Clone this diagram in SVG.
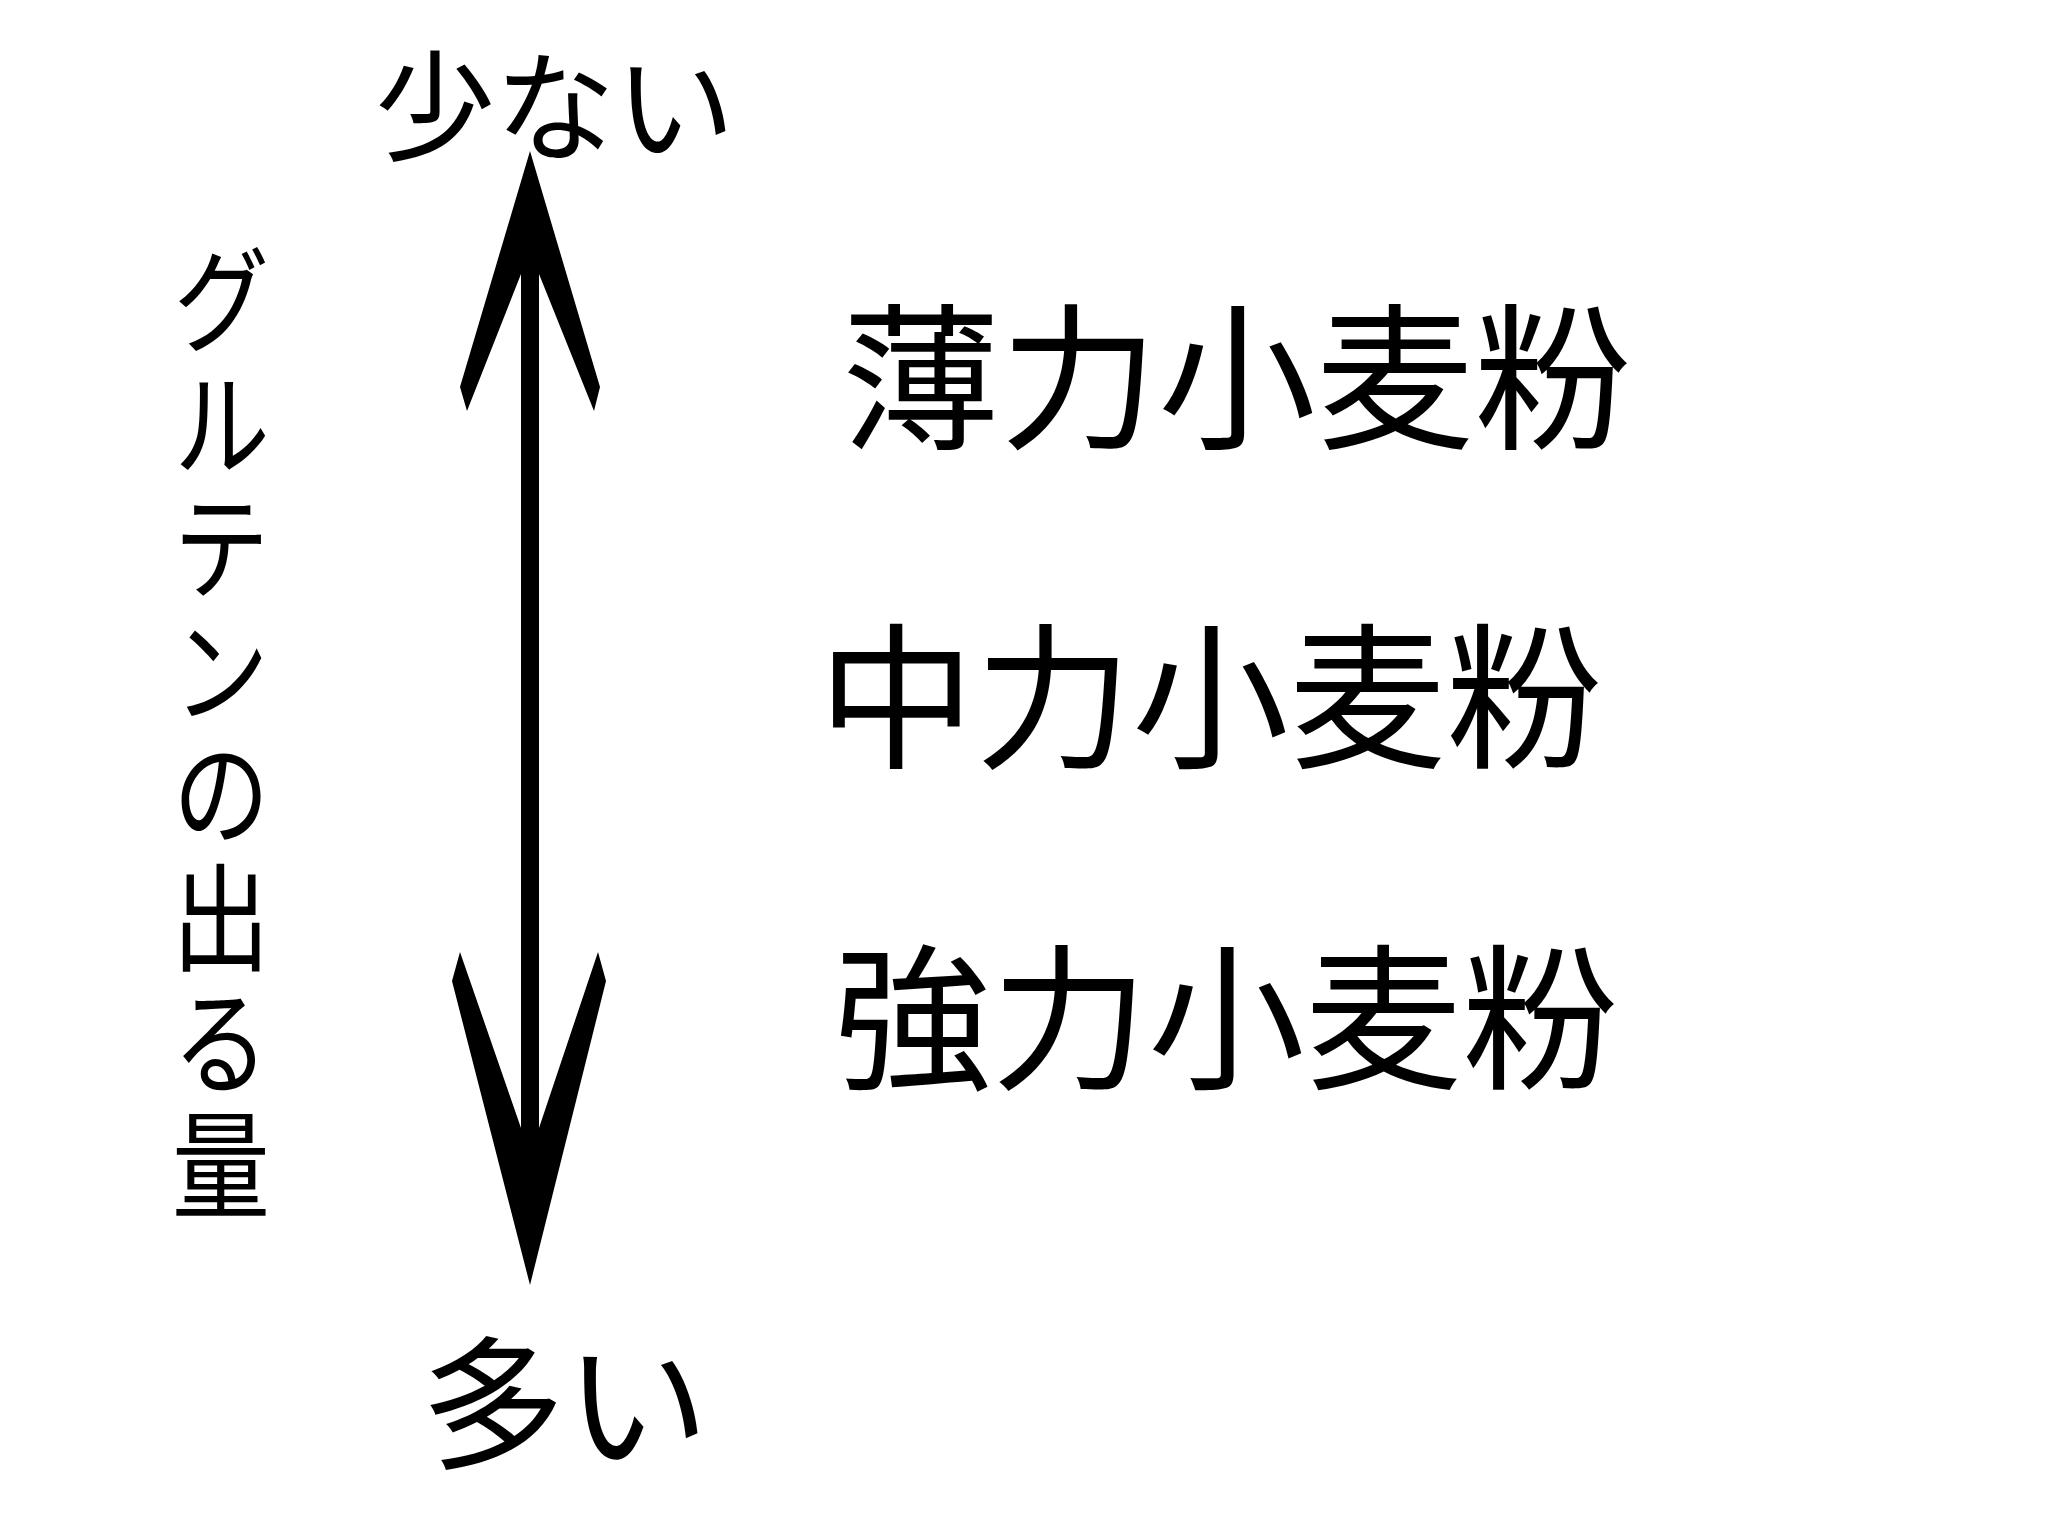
<svg xmlns="http://www.w3.org/2000/svg" width="2048" height="1536" viewBox="0 0 2048 1536">
<style>
.t{font-family:"Noto Sans CJK JP","Noto Sans CJK SC",sans-serif;fill:#000}
.ink{fill:#000;stroke:none}
</style>
<rect width="2048" height="1536" fill="#fff"/>
<g id="connectors">
<rect class="ink" x="521" y="260" width="18" height="880"/>
<path class="ink" d="M530,151 L600,387 L594,411 L539,274 L521,274 L467,411 L460,387 Z"/>
<path class="ink" d="M530,1285 L452,981 L460,952 L521,1128 L539,1128 L598,952 L606,981 Z"/>
</g>
<g id="label-few"><text class="t" x="375" y="152" font-size="120">少ない</text></g>
<g id="label-many"><text class="t" x="421" y="1458" font-size="144">多い</text></g>
<g id="label-axis">
<text class="t" transform="translate(221,0) scale(0.84,1)" x="0" y="241" font-size="117" writing-mode="vertical-rl" letter-spacing="6.6">グルテンの出る量</text>
</g>
<g id="node-weak"><text class="t" x="842" y="437" font-size="158">薄力小麦粉</text></g>
<g id="node-medium"><text class="t" x="818" y="756" font-size="157">中力小麦粉</text></g>
<g id="node-strong"><text class="t" x="834" y="1077" font-size="157">強力小麦粉</text></g>
</svg>
